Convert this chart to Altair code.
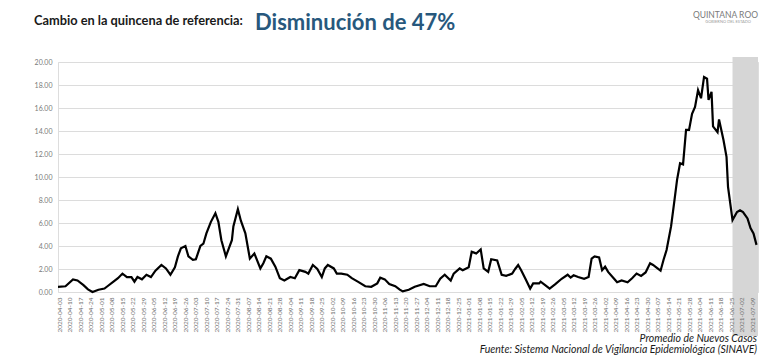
import altair as alt
import pandas as pd

# ---- data ----
dates = [
    "2020-04-02", "2020-04-07", "2020-04-12", "2020-04-15", "2020-04-19", "2020-04-22", "2020-04-25",
    "2020-04-29", "2020-05-03", "2020-05-05", "2020-05-09", "2020-05-12", "2020-05-15", "2020-05-18",
    "2020-05-21", "2020-05-23", "2020-05-25", "2020-05-28", "2020-05-31", "2020-06-03", "2020-06-06",
    "2020-06-10", "2020-06-13", "2020-06-16", "2020-06-19", "2020-06-21", "2020-06-23", "2020-06-26",
    "2020-06-28", "2020-07-01", "2020-07-03", "2020-07-06", "2020-07-08", "2020-07-10", "2020-07-13",
    "2020-07-16", "2020-07-18", "2020-07-20", "2020-07-23", "2020-07-27", "2020-07-28", "2020-07-31",
    "2020-08-02", "2020-08-05", "2020-08-08", "2020-08-11", "2020-08-15", "2020-08-17", "2020-08-19",
    "2020-08-22", "2020-08-25", "2020-08-28", "2020-08-31", "2020-09-04", "2020-09-07", "2020-09-10",
    "2020-09-14", "2020-09-16", "2020-09-19", "2020-09-22", "2020-09-25", "2020-09-27", "2020-09-29",
    "2020-10-03", "2020-10-05", "2020-10-08", "2020-10-12", "2020-10-15", "2020-10-19", "2020-10-24",
    "2020-10-28", "2020-11-01", "2020-11-03", "2020-11-06", "2020-11-09", "2020-11-13", "2020-11-16",
    "2020-11-18", "2020-11-22", "2020-11-26", "2020-12-02", "2020-12-06", "2020-12-10", "2020-12-13",
    "2020-12-16", "2020-12-20", "2020-12-22", "2020-12-26", "2020-12-28", "2021-01-01", "2021-01-03",
    "2021-01-05", "2021-01-06", "2021-01-09", "2021-01-11", "2021-01-14", "2021-01-16", "2021-01-20",
    "2021-01-23", "2021-01-26", "2021-01-30", "2021-02-01", "2021-02-03", "2021-02-05", "2021-02-08",
    "2021-02-11", "2021-02-13", "2021-02-17", "2021-02-18", "2021-02-21", "2021-02-24", "2021-02-28",
    "2021-03-04", "2021-03-08", "2021-03-10", "2021-03-12", "2021-03-15", "2021-03-19", "2021-03-22",
    "2021-03-24", "2021-03-26", "2021-03-29", "2021-03-31", "2021-04-02", "2021-04-04", "2021-04-08",
    "2021-04-10", "2021-04-13", "2021-04-17", "2021-04-20", "2021-04-23", "2021-04-26", "2021-04-29",
    "2021-05-02", "2021-05-04", "2021-05-07", "2021-05-09", "2021-05-11", "2021-05-13", "2021-05-16",
    "2021-05-18", "2021-05-20", "2021-05-22", "2021-05-24", "2021-05-26", "2021-05-28", "2021-05-30",
    "2021-06-01", "2021-06-03", "2021-06-05", "2021-06-07", "2021-06-09", "2021-06-10", "2021-06-12",
    "2021-06-13", "2021-06-16", "2021-06-17", "2021-06-20", "2021-06-22", "2021-06-23", "2021-06-26",
    "2021-06-29", "2021-07-01", "2021-07-03", "2021-07-06", "2021-07-08", "2021-07-10", "2021-07-12",
]
values = [
    0.45, 0.5, 1.1, 1.0, 0.6, 0.23, 0.0,
    0.2, 0.3, 0.5, 0.9, 1.2, 1.6, 1.3,
    1.3, 0.9, 1.3, 1.1, 1.5, 1.3, 1.85,
    2.35, 2.05, 1.5, 2.15, 3.1, 3.8, 4.0,
    3.1, 2.8, 2.85, 4.0, 4.2, 5.1, 6.1,
    6.85, 6.1, 4.5, 3.1, 4.5, 5.7, 7.2,
    6.2, 5.1, 2.9, 3.35, 2.05, 2.5, 3.1,
    2.9, 2.2, 1.2, 1.0, 1.3, 1.2, 1.9,
    1.75, 1.6, 2.35, 2.0, 1.3, 2.05, 2.35,
    2.05, 1.6, 1.6, 1.5, 1.2, 0.9, 0.5,
    0.45, 0.75, 1.25, 1.1, 0.7, 0.5, 0.2,
    0.05, 0.2, 0.45, 0.7, 0.5, 0.5, 1.15,
    1.5, 1.0, 1.6, 2.05, 1.9, 2.15, 3.5,
    3.4, 3.35, 3.7, 2.05, 1.75, 2.85, 2.75,
    1.5, 1.4, 1.6, 2.0, 2.35, 1.9, 1.1,
    0.3, 0.75, 0.75, 0.9, 0.6, 0.3, 0.7,
    1.15, 1.5, 1.25, 1.45, 1.3, 1.15, 1.3,
    2.9, 3.1, 3.0, 1.9, 2.2, 1.75, 1.15,
    0.85, 1.0, 0.85, 1.2, 1.6, 1.4, 1.7,
    2.5, 2.35, 2.05, 1.85, 2.8, 3.65, 5.7,
    7.7, 9.75, 11.2, 11.1, 14.1, 14.1, 15.5,
    16.1, 17.55, 16.85, 18.7, 18.55, 16.7, 17.4,
    14.4, 13.9, 15.0, 13.2, 11.75, 9.15, 6.25,
    6.95, 7.1, 6.95, 6.4, 5.55, 5.1, 4.1,
]
band_start = ["2021-06-26"]
band_end = ["2021-07-13"]
y_ticks = [0, 2, 4, 6, 8, 10, 12, 14, 16, 18, 20]

title_left = "Cambio en la quincena de referencia:"
title_right = "Disminución de 47%"
footer_1 = "Promedio de Nuevos Casos"
footer_2 = "Fuente: Sistema Nacional de Vigilancia Epidemiológica (SINAVE)"
logo_1 = "QUINTANA ROO"
logo_2 = "GOBIERNO DEL ESTADO"

df = pd.DataFrame({"fecha": pd.to_datetime(dates), "valor": values})
band = pd.DataFrame({"ini": pd.to_datetime(band_start), "fin": pd.to_datetime(band_end)})

tick_dates = pd.date_range("2020-04-03", "2021-07-09", freq="7D")
x_values = [alt.DateTime(year=d.year, month=d.month, date=d.day) for d in tick_dates]

x_scale = alt.Scale(domain=[alt.DateTime(year=2020, month=4, date=2),
                            alt.DateTime(year=2021, month=7, date=13)])
y_scale = alt.Scale(domain=[0, 20])

FONT = "Lato"

x_axis = alt.Axis(values=x_values, format="%Y-%m-%d", labelAngle=-90, labelFontSize=6.5,
                  labelColor="#6e6e6e", labelFont=FONT, title=None, ticks=False,
                  domain=False, grid=False, labelPadding=5, zindex=1, labelOverlap=False,
                  labelFlush=False)
y_axis = alt.Axis(values=y_ticks, format=".2f", labelFontSize=7, labelColor="#7a7a7a",
                  labelFont=FONT, title=None, ticks=False, domain=False, grid=True,
                  gridColor="#dcdcdc", gridWidth=1, labelPadding=6)

band_layer = alt.Chart(band).mark_rect(color="#d6d6d6", clip=False).encode(
    x=alt.X("ini:T", scale=x_scale, axis=x_axis),
    x2="fin:T",
    y=alt.value(-5),
    y2=alt.value(274),
)

line_layer = alt.Chart(df).mark_line(color="black", strokeWidth=2.2).encode(
    x=alt.X("fecha:T", scale=x_scale, axis=x_axis),
    y=alt.Y("valor:Q", scale=y_scale, axis=y_axis),
)

def text_layer(txt, x, y, size, weight="normal", style="normal", color="#222222", align="left"):
    return alt.Chart(pd.DataFrame({"t": [txt]})).mark_text(
        font=FONT, fontSize=size, fontWeight=weight, fontStyle=style, color=color,
        align=align, baseline="middle"
    ).encode(text="t:N", x=alt.value(x), y=alt.value(y))

t1 = text_layer(title_left, -24, -41, 12.8, weight="bold", color="#1a1a1a")
t2 = text_layer(title_right, 197, -39, 22, weight="bold", color="#27587d")
f1 = text_layer(footer_1, 699, 277, 10.5, style="italic", color="#1a1a1a", align="right")
f2 = text_layer(footer_2, 699, 288, 10.5, style="italic", color="#1a1a1a", align="right")
l1 = text_layer(logo_1, 700, -47, 8.5, color="#7a7a7a", align="right")
l2 = text_layer(logo_2, 693, -40, 4, color="#9a9a9a", align="right")

chart = alt.layer(band_layer, line_layer, t1, t2, f1, f2, l1, l2).properties(
    width=700, height=230,
    autosize=alt.AutoSizeParams(type="none"),
    padding={"left": 50, "top": 54, "right": 2, "bottom": 64},
).configure_view(stroke=None).configure(background="white")

chart.save("out.html", embed_options={"renderer": "svg", "actions": False})
